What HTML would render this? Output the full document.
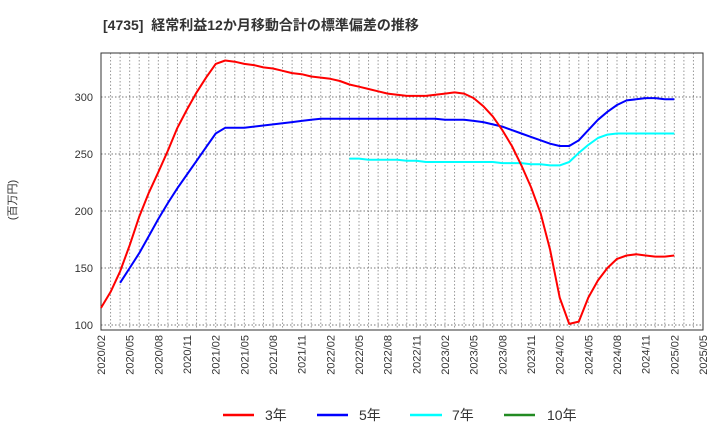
<!DOCTYPE html>
<html><head><meta charset="utf-8"><style>
body{margin:0;background:#fff;}
svg{display:block;font-family:"Liberation Sans","Noto Sans CJK JP",sans-serif;}
</style></head><body>
<svg id="chart" width="720" height="440" viewBox="0 0 720 440">
<text x="103" y="30" font-size="14" font-weight="bold" fill="#333" xml:space="preserve">[4735]  経常利益12か月移動合計の標準偏差の推移</text>
<text transform="translate(16,200) rotate(-90)" font-size="11" fill="#333" text-anchor="middle">(百万円)</text>
<g id="grid"></g>
<rect x="101" y="53" width="602" height="277" fill="none" stroke="#333" stroke-width="1"/>
<g id="axes"></g>
<g id="series"></g>
<g>
<line x1="223" y1="415" x2="254" y2="415" stroke="#ff0000" stroke-width="2.5"/>
<text x="265" y="420" font-size="14" fill="#333">3年</text>
<line x1="317" y1="415" x2="348" y2="415" stroke="#0000ff" stroke-width="2.5"/>
<text x="359" y="420" font-size="14" fill="#333">5年</text>
<line x1="410" y1="415" x2="442" y2="415" stroke="#00ffff" stroke-width="2.5"/>
<text x="452" y="420" font-size="14" fill="#333">7年</text>
<line x1="504" y1="415" x2="535" y2="415" stroke="#228b22" stroke-width="2.5"/>
<text x="547" y="420" font-size="14" fill="#333">10年</text>
</g>
</svg>
<script>
const xTickLabels=["2020/02","2020/05","2020/08","2020/11","2021/02","2021/05","2021/08","2021/11","2022/02","2022/05","2022/08","2022/11","2023/02","2023/05","2023/08","2023/11","2024/02","2024/05","2024/08","2024/11","2025/02","2025/05"];
const yTicks=[100,150,200,250,300];
const s3=[115,129,147,170,195,216,234,253,273,289,304,317,329,332,331,329,328,326,325,323,321,320,318,317,316,314,311,309,307,305,303,302,301,301,301,302,303,304,303,299,292,283,271,257,240,221,198,166,124,101,103,124,139,150,158,161,162,161,160,160,161];
const s5Start=2;
const s5=[137,150,163,178,193,207,220,232,244,256,268,273,273,273,274,275,276,277,278,279,280,281,281,281,281,281,281,281,281,281,281,281,281,281,280,280,280,279,278,276,274,271,268,265,262,259,257,257,262,271,280,287,293,297,298,299,299,298,298];
const s7Start=26;
const s7=[246,246,245,245,245,245,244,244,243,243,243,243,243,243,243,243,242,242,242,241,241,240,240,243,251,258,264,267,268,268,268,268,268,268,268];
const NS="http://www.w3.org/2000/svg";
const X0=101,X1=703,Y0=53,Y1=330;
const monthW=(X1-X0)/63;
function xs(i){return X0+i*monthW;}
function ys(v){return 325-(v-100)*57/50;}
function mk(tag,attrs,parent){const e=document.createElementNS(NS,tag);for(const k in attrs)e.setAttribute(k,attrs[k]);parent.appendChild(e);return e;}
const grid=document.getElementById('grid'),axes=document.getElementById('axes'),ser=document.getElementById('series');
for(let m=1;m<63;m++){
 const l=mk('line',{x1:xs(m),x2:xs(m),y1:Y0,y2:Y1,stroke:'#999','stroke-dasharray':'1.5,2','stroke-width':1},grid);
 
 
}
yTicks.forEach(v=>{
 const l=mk('line',{x1:X0,x2:X1,y1:ys(v),y2:ys(v),stroke:'#777','stroke-dasharray':'1.5,2','stroke-width':1},grid);
 
 
 const t=mk('text',{x:93,y:ys(v)+4,'font-size':11,fill:'#333','text-anchor':'end'},axes);
 t.textContent=v;
 
 
});
xTickLabels.forEach((lab,i)=>{
 const x=xs(i*3);
 const t=mk('text',{transform:`translate(${x+4},335) rotate(-90)`,'font-size':11,fill:'#333','text-anchor':'end'},axes);
 t.textContent=lab;
 
 
});
function line(data,start,color,name){
 const pts=data.map((v,i)=>xs(start+i).toFixed(1)+','+ys(v).toFixed(1)).join(' ');
 const p=mk('polyline',{points:pts,fill:'none',stroke:color,'stroke-width':2,'stroke-linejoin':'round'},ser);
 
 
}
line(s7,s7Start,'#00ffff','series-7y');
line(s5,s5Start,'#0000ff','series-5y');
line(s3,0,'#ff0000','series-3y');
</script>
</body></html>
